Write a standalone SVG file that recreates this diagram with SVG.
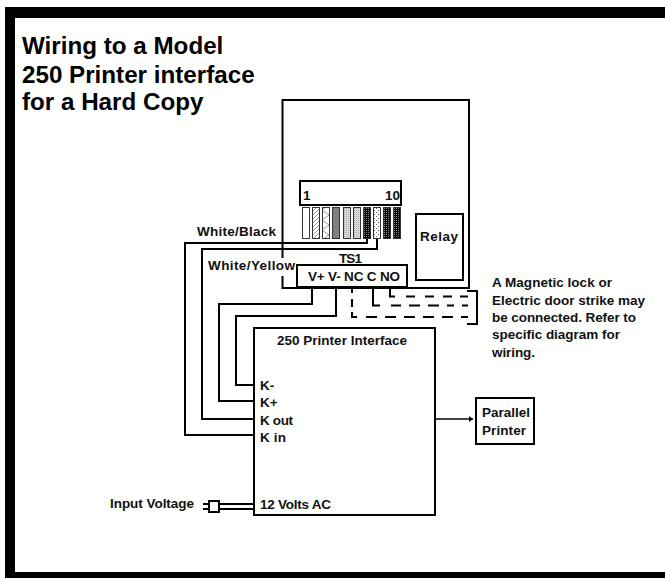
<svg xmlns="http://www.w3.org/2000/svg" width="665" height="578" viewBox="0 0 665 578">
<style>
text{font-family:"Liberation Sans",Arial,sans-serif;font-weight:bold;font-size:13.500px;fill:#111}
.t{font-size:24.200px;fill:#000}
.b{fill:#fff;stroke:#000;stroke-width:2}
.w{fill:none;stroke:#000;stroke-width:2}
.s{stroke:#333;stroke-width:1}
</style>
<defs>
<pattern id="hatch" width="4" height="4" patternUnits="userSpaceOnUse"><rect width="4" height="4" fill="#fff"/><path d="M0 4L4 0" stroke="#999" stroke-width="1"/></pattern>
<pattern id="zig" width="7" height="10" patternUnits="userSpaceOnUse"><rect width="7" height="10" fill="#fff"/><path d="M0 0L7 5L0 10" fill="none" stroke="#999" stroke-width="1"/></pattern>
<pattern id="light" width="2" height="2" patternUnits="userSpaceOnUse"><rect width="2" height="2" fill="#ddd"/><rect width="1" height="1" fill="#aaa"/></pattern>
<pattern id="dark" width="2" height="2" patternUnits="userSpaceOnUse"><rect width="2" height="2" fill="#000"/><rect width="1" height="1" fill="#888"/></pattern>
<pattern id="dots" width="4" height="4" patternUnits="userSpaceOnUse"><rect width="4" height="4" fill="#fff"/><rect width="1" height="1" fill="#666"/><rect x="2" y="2" width="1" height="1" fill="#666"/></pattern>
<marker id="arr" markerWidth="4" markerHeight="6" refX="4" refY="3" orient="auto" markerUnits="userSpaceOnUse"><path d="M0 0L4 3L0 6z" fill="#000"/></marker>
</defs>
<rect width="665" height="578" fill="#fff"/>
<g id="frame">
<rect x="5" y="7" width="660" height="11" fill="#000"/>
<rect x="5" y="7" width="10" height="571" fill="#000"/>
<rect x="5" y="572" width="660" height="6" fill="#000"/>
</g>
<g id="title">
<text class="t" x="22" y="54">Wiring to a Model</text>
<text class="t" x="22" y="83">250 Printer interface</text>
<text class="t" x="22" y="110">for a Hard Copy</text>
</g>
<g id="panel"><path class="w" d="M282.500 258V100H469V288H297M282.500 276V288H297"/></g>
<g id="connectors">
<path class="w" d="M367 238V243H185V435H254"/>
<path class="w" d="M377 238V249H202V419H254"/>
<path class="w" d="M312 287V304H219V401H254"/>
<path class="w" d="M336 287V316H236V385H254"/>
<path class="w" d="M390 287V296.500H395M406 296.500H415M425 296.500H434M443 296.500H452M460 296.500H468"/>
<path class="w" d="M373 287V305.500H380M391 305.500H401M409 305.500H420M428 305.500H439M447 305.500H454M462 305.500H468"/>
<path class="w" d="M352 288V293M352 299V307M352 312V317H357M366 317H377M385 317H396M404 317H415M423 317H434M442 317H453M461 317H468"/>
<path class="w" d="M467 291H477V324H467"/>
<path class="w" marker-end="url(#arr)" d="M436 419H473" style="stroke-width:1.500"/>
<path class="w" d="M219 504H254M219 509H254M203 504H209M203 509H209"/>
</g>
<g id="terminal-strip">
<rect class="s" x="302.500" y="207.500" width="7" height="31" fill="#fff"/>
<rect class="s" x="312.500" y="207.500" width="7" height="31" fill="url(#hatch)"/>
<rect class="s" x="322.500" y="207.500" width="7" height="31" fill="url(#zig)"/>
<rect class="s" x="332.500" y="207.500" width="7" height="31" fill="#808080"/>
<rect class="s" x="343.500" y="207.500" width="7" height="31" fill="url(#light)"/>
<rect class="s" x="353.500" y="207.500" width="7" height="31" fill="url(#light)"/>
<rect class="s" x="363.500" y="207.500" width="7" height="31" fill="url(#dark)"/>
<rect class="s" x="373.500" y="207.500" width="7" height="31" fill="url(#dots)"/>
<rect class="s" x="383.500" y="207.500" width="7" height="31" fill="url(#dark)"/>
<rect class="s" x="393.500" y="207.500" width="7" height="31" fill="url(#dark)"/>
<rect class="b" x="300" y="181" width="101" height="24"/>
<text x="303" y="200">1</text>
<text x="385" y="200">10</text>
</g>
<g id="relay"><rect class="b" x="416" y="214" width="47" height="66"/><text x="420" y="241" textLength="38">Relay</text></g>
<g id="ts1">
<text x="339" y="263" textLength="23">TS1</text>
<rect class="b" x="297" y="265" width="110" height="22"/>
<text x="308" y="281" textLength="92">V+ V- NC C NO</text>
</g>
<g id="interface">
<rect class="b" x="254" y="328" width="181" height="187"/>
<text x="277" y="345" textLength="130">250 Printer Interface</text>
<text x="260" y="390">K-</text>
<text x="260" y="407">K+</text>
<text x="260" y="425" textLength="33">K out</text>
<text x="260" y="442" textLength="26">K in</text>
<text x="260" y="509" textLength="71">12 Volts AC</text>
</g>
<g id="printer">
<rect class="b" x="476" y="398" width="58" height="46"/>
<text x="482" y="417" textLength="48">Parallel</text>
<text x="482" y="435" textLength="44">Printer</text>
</g>
<g id="input">
<text x="110" y="508" textLength="84">Input Voltage</text>
<rect class="b" x="209" y="501" width="10" height="11"/>
</g>
<g id="labels">
<text x="197" y="236" textLength="79">White/Black</text>
<text x="208" y="270" textLength="87">White/Yellow</text>
<text x="492" y="287" textLength="120">A Magnetic lock or</text>
<text x="492" y="305" textLength="153">Electric door strike may</text>
<text x="492" y="322" textLength="144">be connected. Refer to</text>
<text x="492" y="339" textLength="128">specific diagram for</text>
<text x="492" y="357" textLength="43">wiring.</text>
</g>
</svg>
